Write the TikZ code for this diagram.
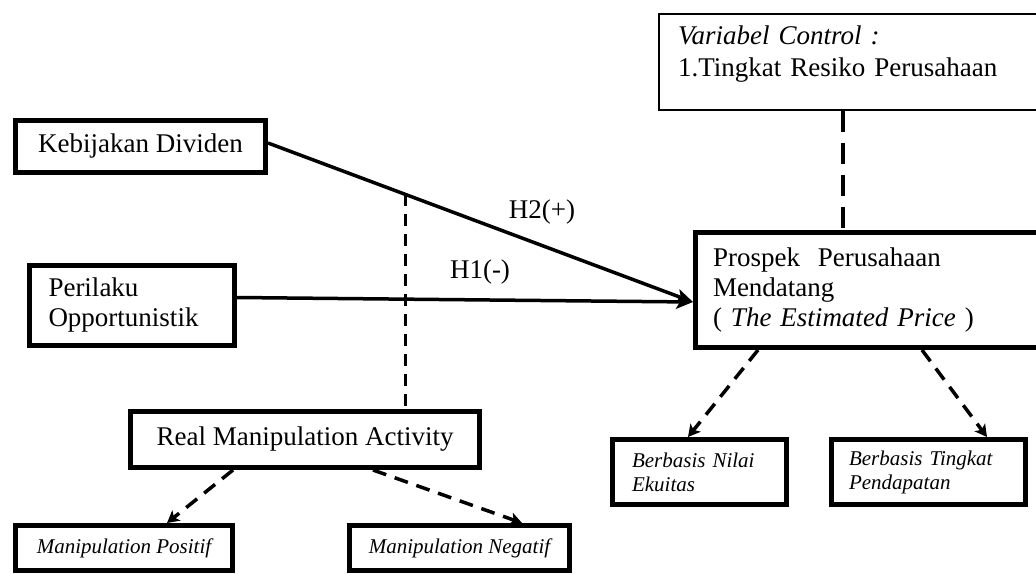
\documentclass[tikz,border=0pt]{standalone}
\usepackage{fontspec}
\setmainfont{Liberation Serif}
\usetikzlibrary{arrows.meta}
\tikzset{
  bigbox/.style={draw, rectangle, line width=5pt, inner sep=0pt, font=\fontsize{27}{30}\selectfont},
  thinbox/.style={draw, rectangle, line width=2pt, inner sep=0pt, font=\fontsize{27}{32}\selectfont},
  smallbox/.style={draw, rectangle, line width=5pt, inner sep=0pt, font=\fontsize{21}{24}\selectfont\itshape},
  lbl/.style={inner sep=0pt, font=\fontsize{27}{30}\selectfont},
  solidarrow/.style={line width=3.5pt, -{Stealth[length=17pt,width=14pt,inset=4pt]}},
  darrow/.style={line width=3.5pt, dash pattern=on 14pt off 9pt, -{Stealth[length=12pt,width=13pt,inset=3pt]}},
  vdash/.style={line width=3pt, dash pattern=on 12pt off 8pt},
  cdash/.style={line width=4pt, dash pattern=on 21pt off 11pt}
}
\begin{document}
\begin{tikzpicture}[x=1pt,y=-1pt]
\fill[white] (0,0) rectangle (1036,573);
\useasboundingbox (0,0) rectangle (1036,573);

\node[bigbox, minimum width=250pt, minimum height=52pt] (kd) at (140.5,146.5) {Kebijakan Dividen};
\node[bigbox, align=left, text width=167pt, inner xsep=19pt, minimum height=80pt] (po) at (132,305.5) {Perilaku\\Opportunistik};
\node[bigbox, align=left, text width=319.5pt, inner xsep=17.5pt, minimum height=115pt] (pp) at (872.75,290) {Prospek\ \ Perusahaan\\Mendatang\\( \textit{The Estimated Price} )};
\node[thinbox, align=left, text width=354pt, inner xsep=19pt, inner ysep=11pt, text height=19pt, text depth=55pt, anchor=north west] (vc) at (658,13) {\textit{Variabel Control :}\\1.Tingkat Resiko Perusahaan};
\node[bigbox, minimum width=349pt, minimum height=56pt] (rma) at (305,439.5) {Real Manipulation Activity};
\node[smallbox, minimum width=217pt, minimum height=45pt] (mp) at (124,548) {Manipulation Positif};
\node[smallbox, minimum width=220pt, minimum height=45pt] (mn) at (459.5,548) {Manipulation Negatif};
\node[smallbox, align=left, text width=135pt, inner xsep=19.5pt, minimum height=65pt] (bn) at (699.5,472) {Berbasis Nilai\\Ekuitas};
\node[smallbox, align=left, text width=159pt, inner xsep=17.5pt, minimum height=65pt] (bt) at (928.5,472) {Berbasis Tingkat\\Pendapatan};

\node[lbl] (h2) at (542,212) {H2(+)};
\node[lbl] (h1) at (480,272) {H1(-)};

\coordinate (tip) at ([yshift=-12pt]pp.west);
\coordinate (cx) at (843,0);

\draw[solidarrow] ([yshift=3.5pt]kd.east) -- coordinate[pos=0.3224] (m) (tip);
\draw[solidarrow] ([yshift=8pt]po.east) -- (tip);
\draw[vdash] (m) -- (m |- rma.north);
\draw[cdash] (vc.south -| cx) -- (pp.north -| cx);

\draw[darrow] ([xshift=-72pt]rma.south) -- ([xshift=43pt]mp.north);
\draw[darrow] ([xshift=68pt]rma.south) -- ([xshift=62.5pt]mn.north);
\draw[darrow] ([xshift=-114.75pt]pp.south) -- ([xshift=-11.5pt]bn.north);
\draw[darrow] ([xshift=49.25pt]pp.south) -- ([xshift=58.5pt]bt.north);
\end{tikzpicture}
\end{document}
